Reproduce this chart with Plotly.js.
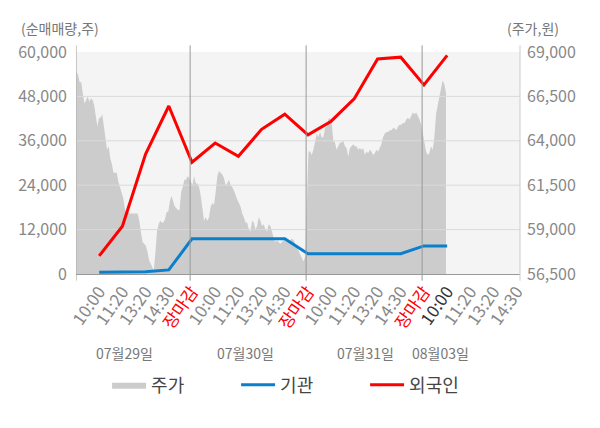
<!DOCTYPE html>
<html>
<head>
<meta charset="utf-8">
<script src="https://cdn.plot.ly/plotly-3.0.1.min.js"></script>
<style>
  html, body { margin: 0; padding: 0; background: #ffffff; }
  #chart { width: 600px; height: 428px; }
</style>
</head>
<body>
<div id="chart"></div>
<script>
/* =========================================
   데이터
========================================= */

const dias = ["07월29일", "07월30일", "07월31일", "08월03일"];

const rotulosHora = [
    "10:00", "11:20", "13:20", "14:30", "장마감",
    "10:00", "11:20", "13:20", "14:30", "장마감",
    "10:00", "11:20", "13:20", "14:30", "장마감",
    "10:00", "11:20", "13:20", "14:30"
];

// 주가 (원) - 일자별 장중 흐름
const precoDia1 = [
    67900, 67700, 67300, 67300, 66600, 66100, 66300, 66500, 66200, 66400,
    66300, 66000, 65400, 64800, 65300, 65300, 65500, 64800, 63900, 63500,
    63700, 63000, 62700, 62200, 62200, 62200, 61700, 61400, 61200, 60800,
    60200, 59900, 60000, 59900, 59900, 59900, 59900, 59900, 59900, 59500,
    58800, 58300, 58200, 58100, 57800, 57300, 57100, 56900, 56700, 57700,
    58900, 59300, 59500, 59400, 59400, 59600, 60000, 60000, 60600, 60900,
    60600, 60300, 60200, 60100, 60100, 61100, 61400, 61800, 61800, 62000,
    61900
];

const precoDia2 = [
    61500, 62000, 61600, 61600, 61400, 60900, 60100, 59500, 59700, 59500,
    59700, 60300, 60500, 60400, 61100, 62000, 62300, 62200, 62100, 61900,
    61500, 61600, 61800, 61500, 61400, 61200, 60900, 60700, 60500, 60300,
    59900, 59700, 59400, 59400, 59000, 58900, 59500, 59400, 59000, 59200,
    59700, 59500, 59200, 59300, 59000, 58900, 59300, 59200, 58900, 58500,
    58300, 58400, 58300, 58200, 58300, 58400, 58400, 58400, 58300, 58400,
    58500, 58400, 58200, 58000, 57800, 57600, 57300, 57200, 57500
];

const precoDia3 = [
    63400, 63400, 63200, 63500, 64000, 64400, 64200, 64500, 64200, 64200,
    64700, 64800, 65200, 65300, 65000, 64000, 63900, 63500, 63700, 63900,
    63900, 64000, 63700, 63600, 63100, 63600, 63700, 63800, 63700, 63700,
    63500, 63600, 63500, 63600, 63200, 63400, 63300, 63500, 63400, 63200,
    63300, 63500, 63400, 63600, 63800, 64200, 64400, 64500, 64500, 64600,
    64600, 64700, 64700, 64600, 64800, 64900, 64900, 65000, 65000, 65200,
    65300, 65200, 65400, 65600, 65500, 65600, 65400, 65200, 64900
];

const precoDia4 = [
    63800, 63400, 63200, 63300, 63700, 63500, 64200, 65500, 66000, 66500,
    67000, 67400, 67200, 66700
];

// 순매매량 (주) - 시간대별 누적
const institucional = [
    500, 500, 600, 1100, 9500,
    9500, 9500, 9500, 9500, 5500,
    5500, 5500, 5500, 5500, 7600,
    7600
];

const estrangeiro = [
    4900, 12900, 32400, 45400, 30200,
    35400, 31800, 39100, 43200, 37600,
    41300, 47400, 58100, 58600, 51100,
    59100
];

const ticksVolume = [0, 12000, 24000, 36000, 48000, 60000];
const ticksPreco = [56500, 59000, 61500, 64000, 66500, 69000];


/* =========================================
   가공
========================================= */

const DIA = 5;          // unidades por pregão
const FIM_X = 19.14;
const FECHO = 4.92;     // posição do 장마감 dentro do dia

let xPreco = [];
let yPreco = [];
let passo = 0;

[precoDia1, precoDia2, precoDia3, precoDia4].forEach((lista, d) => {
    if (d < 3) passo = 4.86 / (lista.length - 1);
    lista.forEach((v, i) => {
        xPreco.push(d * DIA + 0.02 + i * passo);
        yPreco.push(v);
    });
});

let xFluxo = institucional.map((v, i) => i + 1);

let xGrade = [];
let yGrade = [];
ticksPreco.slice(1, -1).forEach(v => {
    xGrade.push(0, FIM_X, null);
    yGrade.push(v, v, null);
});

let textoTicks = rotulosHora.map((t, i) => {
    if (t === "장마감") return '<span style="color:#ff0000">' + t + '</span>';
    if (i === 15) return '<span style="color:#333333">' + t + '</span>';
    return t;
});


/* =========================================
   GRÁFICO
========================================= */

let tracePreco = {
    x: xPreco,
    y: yPreco,
    yaxis: "y",
    mode: "lines",
    line: { width: 0, color: "#cccccc" },
    fill: "tozeroy",
    fillcolor: "#cccccc",
    name: "주가",
    hoverinfo: "skip"
};

let traceGrade = {
    x: xGrade,
    y: yGrade,
    yaxis: "y",
    mode: "lines",
    line: { width: 1, color: "#dadada" },
    showlegend: false,
    hoverinfo: "skip"
};

let traceInst = {
    x: xFluxo,
    y: institucional,
    yaxis: "y2",
    mode: "lines",
    line: { width: 3, color: "#0a7fcc" },
    name: "기관"
};

let traceEstr = {
    x: xFluxo,
    y: estrangeiro,
    yaxis: "y2",
    mode: "lines",
    line: { width: 3, color: "#ff0000" },
    name: "외국인"
};

let linhas = [0, FECHO, DIA + FECHO, 2 * DIA + FECHO].map(x => ({
    type: "line",
    xref: "x",
    yref: "paper",
    x0: x, x1: x,
    y0: -0.03, y1: 1.03,
    line: { color: "#999999", width: 1 },
    layer: "above"
}));

linhas.push({
    type: "line",
    xref: "paper",
    yref: "paper",
    x0: 1, x1: 1,
    y0: -0.03, y1: 1.03,
    line: { color: "#cccccc", width: 1 },
    layer: "above"
});

let posDias = [2.1, 7.3, 12.5, 15.7];

let anotacoes = dias.map((d, i) => ({
    text: d,
    x: posDias[i],
    xref: "x",
    y: -0.41,
    yref: "paper",
    showarrow: false,
    font: { size: 14, color: "#777777" }
}));

anotacoes.push({
    text: "(순매매량,주)",
    x: -0.128, xref: "paper", xanchor: "left",
    y: 1.11, yref: "paper", yanchor: "middle",
    showarrow: false,
    font: { size: 14, color: "#777777" }
});

anotacoes.push({
    text: "(주가,원)",
    x: 1.092, xref: "paper", xanchor: "right",
    y: 1.11, yref: "paper", yanchor: "middle",
    showarrow: false,
    font: { size: 14, color: "#777777" }
});

let layout = {

    width: 600,
    height: 428,

    font: { family: "'Noto Sans CJK KR', 'Noto Sans', sans-serif", color: "#777777", size: 14 },

    paper_bgcolor: "#ffffff",
    plot_bgcolor: "#f4f4f4",

    margin: {
        t: 52,
        l: 76,
        r: 80,
        b: 154
    },

    showlegend: true,
    legend: {
        orientation: "h",
        x: 0.07,
        xanchor: "left",
        y: -0.5,
        yanchor: "middle",
        font: { size: 18, color: "#444444" },
        entrywidth: 80,
        itemwidth: 34
    },

    xaxis: {
        range: [0, FIM_X],
        tickmode: "array",
        tickvals: rotulosHora.map((t, i) => i + 1),
        ticktext: textoTicks,
        tickangle: -55,
        ticks: "",
        showgrid: false,
        zeroline: false,
        showline: true,
        linecolor: "#999999",
        tickfont: { size: 17, color: "#888888" }
    },

    yaxis: {
        side: "right",
        range: [56500, 69000],
        tickmode: "array",
        tickvals: ticksPreco,
        tickformat: ",",
        showgrid: false,
        zeroline: false,
        showline: false,
        ticks: "",
        ticklabelstandoff: 6,
        tickfont: { size: 16, color: "#888888" }
    },

    yaxis2: {
        overlaying: "y",
        side: "left",
        range: [0, 60000],
        tickmode: "array",
        tickvals: ticksVolume,
        tickformat: ",",
        showgrid: false,
        zeroline: false,
        showline: false,
        ticks: "",
        ticklabelstandoff: 8,
        tickfont: { size: 16, color: "#888888" }
    },

    shapes: linhas,
    annotations: anotacoes
};

Plotly.newPlot(
    "chart",
    [tracePreco, traceGrade, traceInst, traceEstr],
    layout,
    { displayModeBar: false, staticPlot: true }
);
</script>
</body>
</html>
